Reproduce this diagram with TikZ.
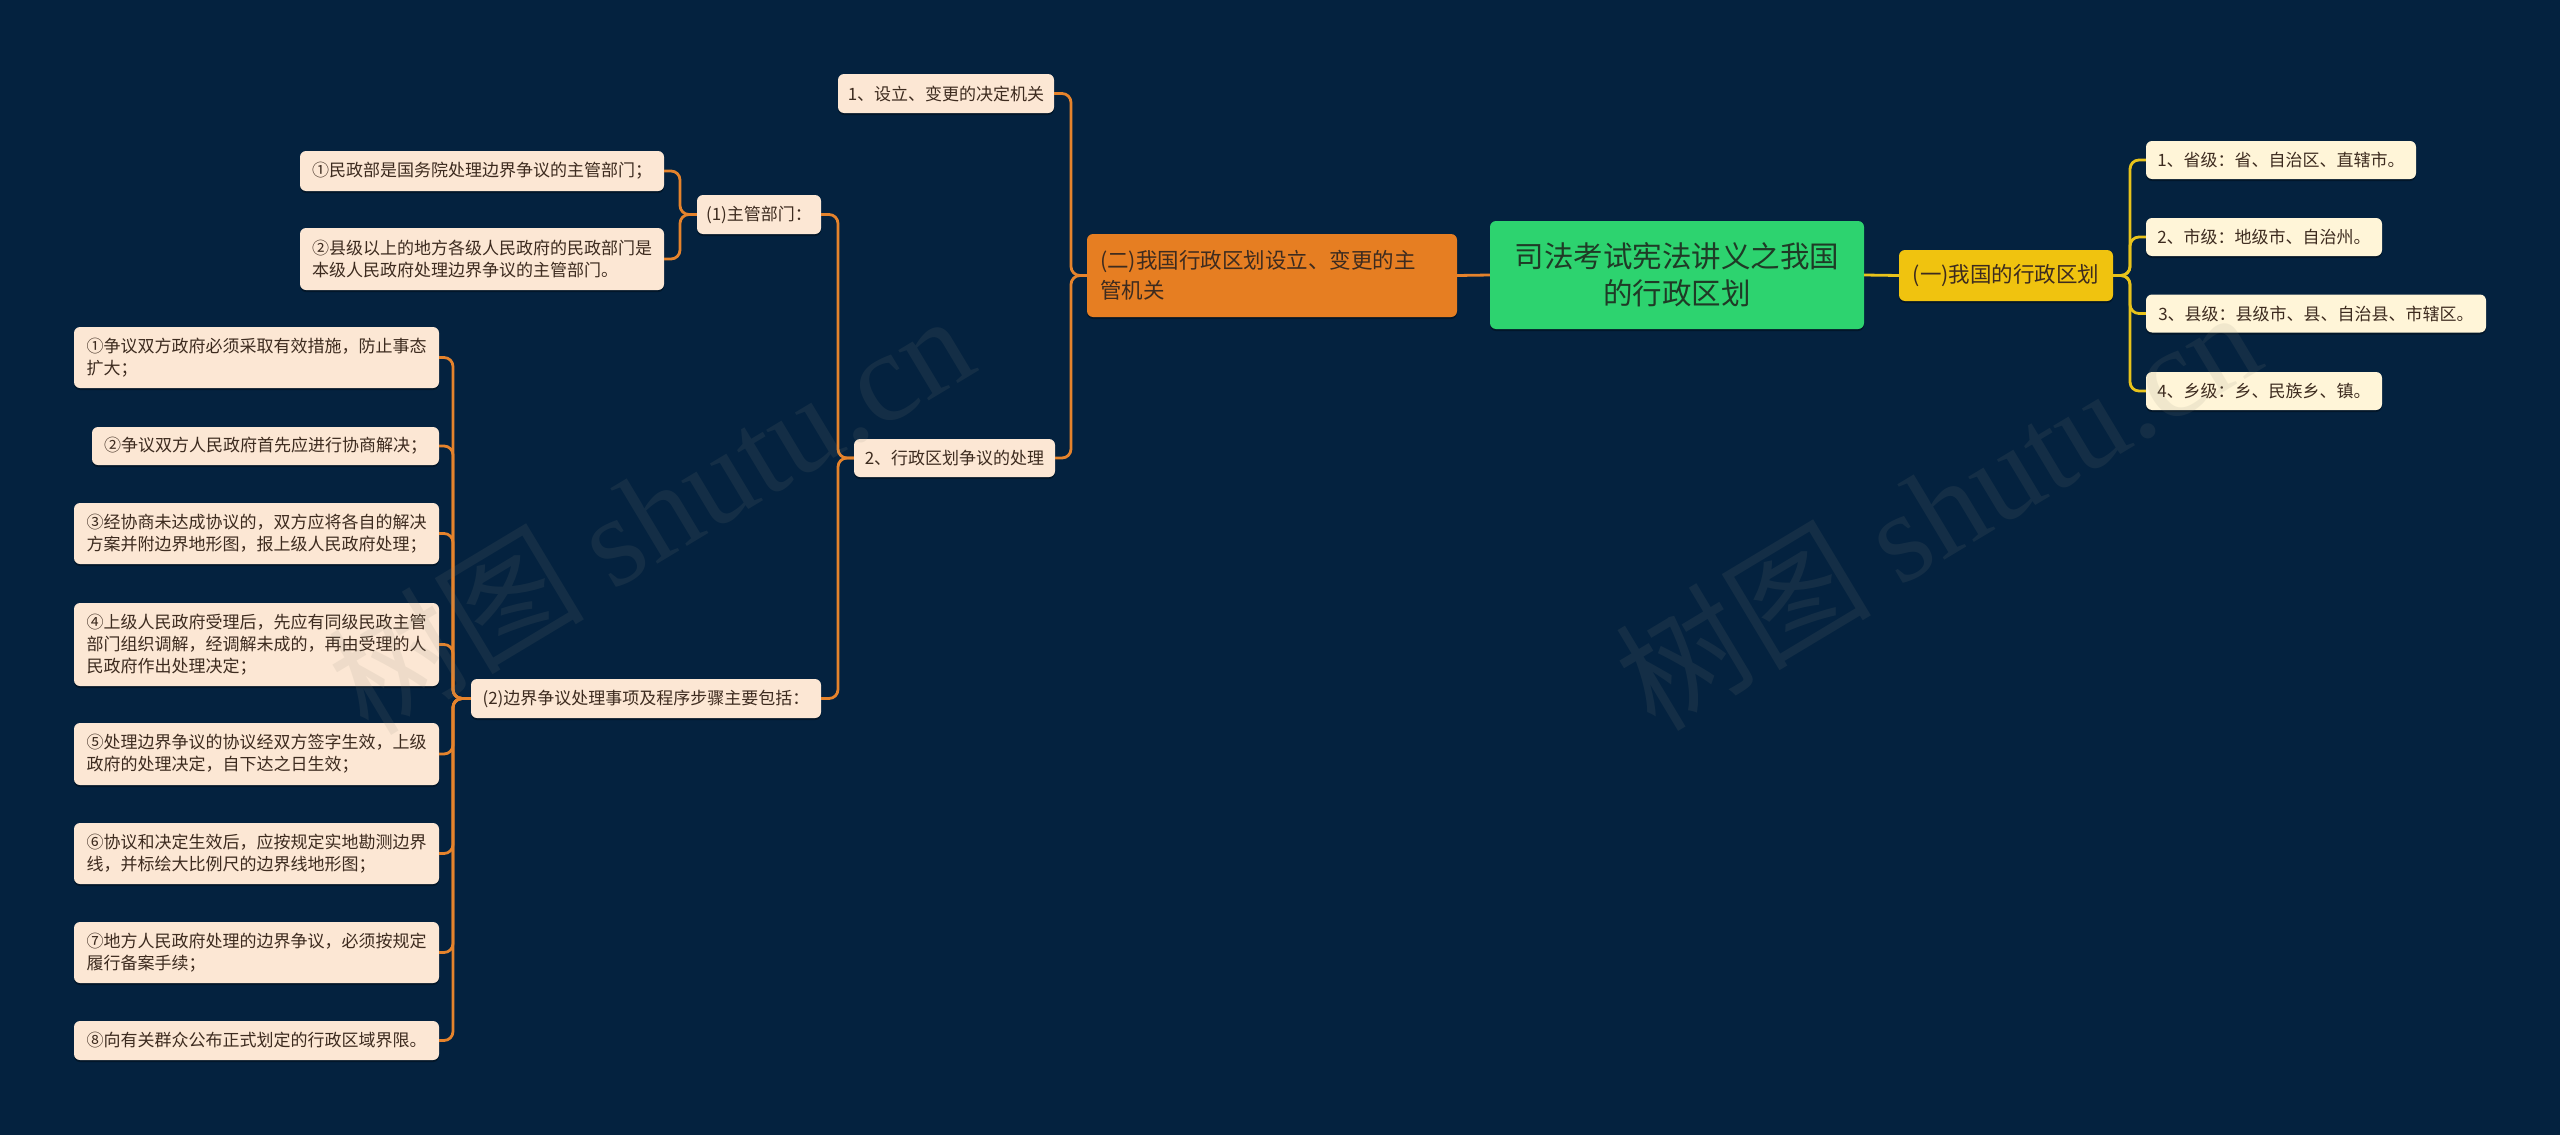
\documentclass[tikz,border=0pt]{standalone}
\usepackage{fontspec}
\setmainfont{Noto Sans CJK SC}
\newfontfamily\wmlatin{Liberation Serif}
\usetikzlibrary{shadows}
\definecolor{bg}{HTML}{04223F}
\definecolor{peachc}{HTML}{FCE7D4}
\definecolor{creamc}{HTML}{FFF5D8}
\definecolor{rootc}{HTML}{2DD36F}
\definecolor{yellowc}{HTML}{F0C30F}
\definecolor{orangec}{HTML}{E67E22}
\definecolor{olinec}{HTML}{E5832C}
\definecolor{ylinec}{HTML}{E8C31B}
\definecolor{txtc}{HTML}{3D2B1F}
\definecolor{roottxt}{HTML}{1F3A26}
\definecolor{wmc}{HTML}{8A8A7A}
\tikzset{
  box/.style={rounded corners=6pt, inner xsep=9pt, inner ysep=0pt, align=left,
    text=txtc, font=\fontsize{17}{22}\selectfont,
    drop shadow={shadow xshift=0pt, shadow yshift=-2pt, fill=black, opacity=0.35}},
  peach/.style={box, fill=peachc},
  cream/.style={box, fill=creamc},
  olink/.style={draw=olinec, line width=2.8pt, rounded corners=9pt},
  ylink/.style={draw=ylinec, line width=2.8pt, rounded corners=9pt},
  wmark/.style={text=wmc, opacity=0.12, rotate=31, inner sep=0pt}
}
\begin{document}
\begin{tikzpicture}[x=1pt,y=-1pt]
\fill[bg] (0,0) rectangle (2560,1135);
\useasboundingbox (0,0) rectangle (2560,1135);

% root
\node[box, fill=rootc, text=roottxt, align=center, minimum width=374pt, minimum height=108pt,
  font=\fontsize{29.5}{37}\selectfont] (root) at (1677,275) {司法考试宪法讲义之我国\\的行政区划};

% right branch
\node[box, fill=yellowc, text=txtc, align=center, minimum width=214pt, minimum height=51pt,
  font=\fontsize{21.5}{28}\selectfont] (n1) at (2006,275.5) {(一)我国的行政区划};
\node[cream, minimum width=270pt, minimum height=38pt] (r1) at (2281,160) {1、省级：省、自治区、直辖市。};
\node[cream, minimum width=236pt, minimum height=38pt] (r2) at (2264,237) {2、市级：地级市、自治州。};
\node[cream, minimum width=340pt, minimum height=38pt] (r3) at (2316,313.5) {3、县级：县级市、县、自治县、市辖区。};
\node[cream, minimum width=236pt, minimum height=38pt] (r4) at (2264,391) {4、乡级：乡、民族乡、镇。};

% left branch
\node[box, fill=orangec, text=txtc, inner xsep=13pt, minimum width=370pt, minimum height=83pt,
  font=\fontsize{21.5}{30}\selectfont, text width=344pt] (n2) at (1272,275.5) {(二)我国行政区划设立、变更的主\\管机关};
\node[peach, minimum width=216pt, minimum height=39pt] (l1) at (946,93.5) {1、设立、变更的决定机关};
\node[peach, minimum width=201pt, minimum height=38pt] (l2) at (954.5,458) {2、行政区划争议的处理};

\node[peach, minimum width=124pt, minimum height=39pt] (p1) at (759,214.5) {(1)主管部门：};
\node[peach, minimum width=364pt, minimum height=40pt] (a1) at (482,171) {①民政部是国务院处理边界争议的主管部门；};
\node[peach, minimum width=364pt, minimum height=62pt] (a2) at (482,259) {②县级以上的地方各级人民政府的民政部门是\\本级人民政府处理边界争议的主管部门。};

\node[peach, minimum width=350pt, minimum height=39pt] (p2) at (646,698.5) {(2)边界争议处理事项及程序步骤主要包括：};
\node[peach, minimum width=365pt, minimum height=61pt] (b1) at (256.5,357.5) {①争议双方政府必须采取有效措施，防止事态\\扩大；};
\node[peach, minimum width=347pt, minimum height=38pt] (b2) at (265.5,446) {②争议双方人民政府首先应进行协商解决；};
\node[peach, minimum width=365pt, minimum height=61pt] (b3) at (256.5,533.5) {③经协商未达成协议的，双方应将各自的解决\\方案并附边界地形图，报上级人民政府处理；};
\node[peach, minimum width=365pt, minimum height=83pt] (b4) at (256.5,644.5) {④上级人民政府受理后，先应有同级民政主管\\部门组织调解，经调解未成的，再由受理的人\\民政府作出处理决定；};
\node[peach, minimum width=365pt, minimum height=62pt] (b5) at (256.5,754) {⑤处理边界争议的协议经双方签字生效，上级\\政府的处理决定，自下达之日生效；};
\node[peach, minimum width=365pt, minimum height=61pt] (b6) at (256.5,853.5) {⑥协议和决定生效后，应按规定实地勘测边界\\线，并标绘大比例尺的边界线地形图；};
\node[peach, minimum width=365pt, minimum height=61pt] (b7) at (256.5,952.5) {⑦地方人民政府处理的边界争议，必须按规定\\履行备案手续；};
\node[peach, minimum width=365pt, minimum height=39pt] (b8) at (256.5,1040.5) {⑧向有关群众公布正式划定的行政区域界限。};

% trunk coordinates
\coordinate (t1) at (2130,0);
\coordinate (t2) at (1071,0);
\coordinate (t3) at (838,0);
\coordinate (t4) at (680,0);
\coordinate (t5) at (453,0);

% connectors
\draw[ylink] (root.east) -- (n1.west);
\draw[olink] (root.west) -- (n2.east);
\foreach \c in {r1,r2,r3,r4}{
  \draw[ylink] (n1.east) -- (n1.east -| t1) |- (\c.west);
}
\foreach \c in {l1,l2}{
  \draw[olink] (n2.west) -- (n2.west -| t2) |- (\c.east);
}
\foreach \c in {p1,p2}{
  \draw[olink] (l2.west) -- (l2.west -| t3) |- (\c.east);
}
\foreach \c in {a1,a2}{
  \draw[olink] (p1.west) -- (p1.west -| t4) |- (\c.east);
}
\foreach \c in {b1,b2,b3,b4,b5,b6,b7,b8}{
  \draw[olink] (p2.west) -- (p2.west -| t5) |- (\c.east);
}

% watermarks (on top, faint)
\node[wmark] (wm1) at (650,512) {\fontsize{128}{128}\selectfont 树图 {\wmlatin shutu.cn}};
\node[wmark] (wm2) at (1937,508) {\fontsize{128}{128}\selectfont 树图 {\wmlatin shutu.cn}};
\end{tikzpicture}
\end{document}
